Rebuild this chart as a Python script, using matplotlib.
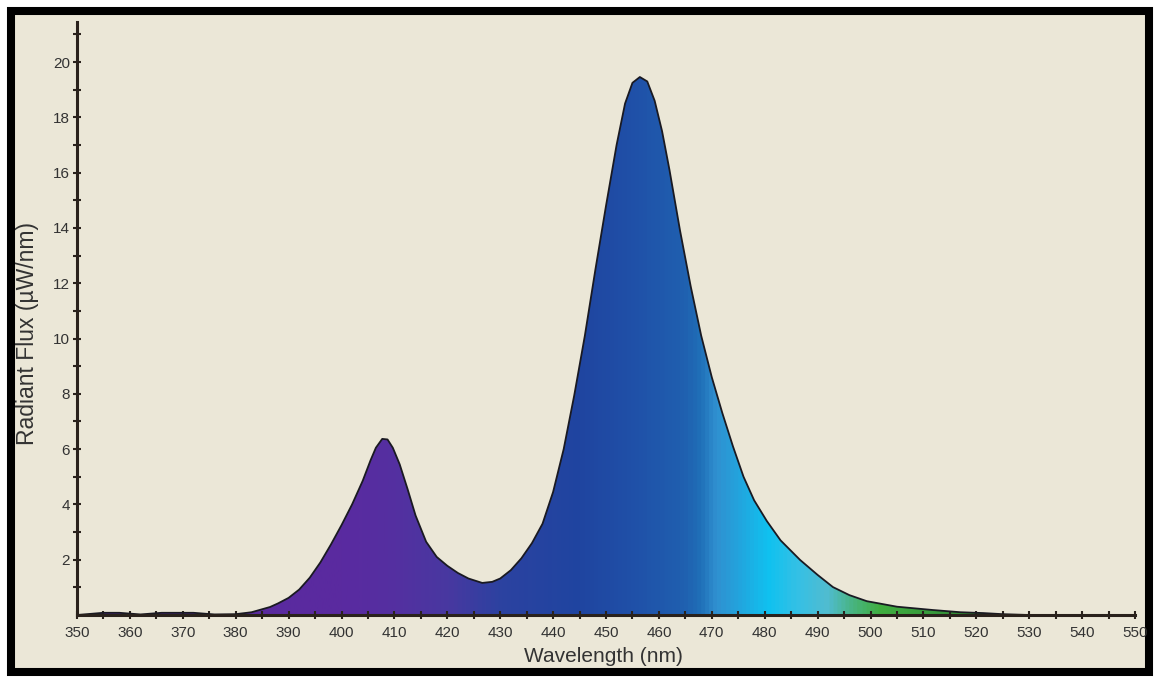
import matplotlib
matplotlib.use("Agg")
import matplotlib.pyplot as plt
import numpy as np
from matplotlib.colors import LinearSegmentedColormap
from matplotlib.patches import Rectangle
from matplotlib.ticker import MultipleLocator

plt.rcParams['font.family'] = ['Liberation Sans', 'DejaVu Sans']

# spectrum
wavelength = [350, 355, 358, 362, 366, 372, 376, 380, 383, 386.5, 388, 390,
              392, 394, 396, 398, 400, 402, 404, 405.5, 406.5, 407.7, 408.7,
              409.7, 411, 412.5, 414, 416, 418, 420, 422, 424, 426.6, 428.5,
              430, 432, 434, 436, 438, 440, 442, 444, 446, 448, 450, 452,
              453.6, 455, 456.4, 457.8, 459.2, 460.6, 462, 464, 466, 468, 470,
              472, 474, 476, 478, 480.4, 483, 486.7, 490, 492.9, 496, 499.3,
              505, 511.8, 517, 521.3, 525, 530, 550]
flux = [0.0, 0.08, 0.08, 0.02, 0.08, 0.08, 0.02, 0.03, 0.1, 0.29, 0.42, 0.62,
        0.92, 1.35, 1.9, 2.55, 3.25, 4.0, 4.85, 5.6, 6.05, 6.37, 6.35,
        6.05, 5.45, 4.55, 3.6, 2.65, 2.1, 1.78, 1.52, 1.32, 1.16, 1.2,
        1.32, 1.62, 2.05, 2.6, 3.3, 4.45, 6.0, 7.95, 10.1, 12.5, 14.8, 17.0,
        18.5, 19.25, 19.46, 19.3, 18.6, 17.5, 16.1, 13.9, 11.9, 10.1, 8.6,
        7.3, 6.1, 5.0, 4.15, 3.4, 2.7, 1.99, 1.45, 1.01, 0.72, 0.5,
        0.3, 0.18, 0.1, 0.07, 0.03, 0.0, 0.0]

x_ticks = list(range(350, 551, 10))
y_ticks = list(range(2, 21, 2))

# spectral fill colours by wavelength
stops = [(350, '#5a2a9c'), (400, '#5a2aa0'), (410, '#5430a0'), (420, '#4838a0'),
         (430, '#2c42a0'), (445, '#1f45a0'), (455, '#2050a8'), (465, '#1f60b0'),
         (468, '#2070b8'), (471, '#3090d0'), (476, '#20a8e0'), (481, '#10c2f0'),
         (487, '#38c0e4'), (492, '#50bcd0'), (497, '#48b480'), (502, '#40ae40'),
         (512, '#389a3c'), (525, '#2c7a2c'), (550, '#2c7a2c')]
cmap = LinearSegmentedColormap.from_list(
    'spec', [((w - 350) / 200, c) for w, c in stops])

bg = '#ebe7d7'
dark = '#2a221c'
txt = '#333333'

fig = plt.figure(figsize=(11.55, 6.77), dpi=100, facecolor='white')
frame = Rectangle((11 / 1155, 5 / 677), 1138 / 1155, 661 / 677,
                  transform=fig.transFigure, facecolor=bg,
                  edgecolor='black', linewidth=5.8, zorder=-10)
fig.patches.append(frame)

ax = fig.add_axes([77 / 1155, 62 / 677, 1058 / 1155, 593 / 677], zorder=5)
ax.set_facecolor('none')

poly = ax.fill_between(wavelength, flux, 0, facecolor='none', edgecolor='none')
grad = np.linspace(0, 1, 800).reshape(1, -1)
img = ax.imshow(grad, cmap=cmap, aspect='auto', extent=[350, 550, 0, 21.45],
                origin='lower', zorder=1)
img.set_clip_path(poly.get_paths()[0], transform=ax.transData)
ax.plot(wavelength, flux, color='#1a1a22', lw=1.3, zorder=3,
        solid_joinstyle='round')

ax.set_xlim(350, 550)
ax.set_ylim(0, 21.45)
for s in ['top', 'right']:
    ax.spines[s].set_visible(False)
for s in ['left', 'bottom']:
    ax.spines[s].set_color(dark)
    ax.spines[s].set_linewidth(2.2)
    ax.spines[s].set_zorder(4)

ax.set_xticks(x_ticks)
ax.set_yticks(y_ticks)
ax.xaxis.set_minor_locator(MultipleLocator(5))
ax.set_yticks(list(range(1, 22, 2)), minor=True)
ax.tick_params(which='both', direction='inout', length=6, width=1.5,
               color=dark, labelsize=11, labelcolor=txt)
ax.tick_params(axis='x', pad=5)
ax.tick_params(axis='y', pad=2)

ax.set_xlabel('Wavelength (nm)', fontsize=15, color=txt)
ax.set_ylabel('Radiant Flux (µW/nm)', fontsize=16.5, color=txt)
ax.xaxis.set_label_coords(0.498, -0.054)
ax.yaxis.set_label_coords(-0.036, 0.4755)

fig.savefig('out.png', dpi=100, facecolor='white')
